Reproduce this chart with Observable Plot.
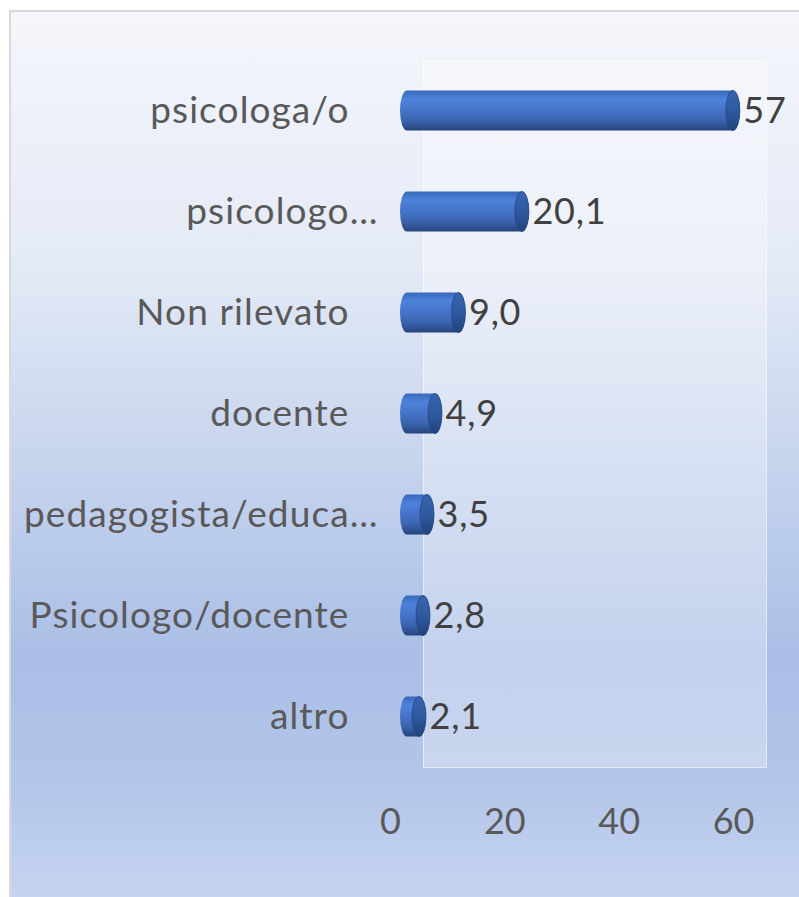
<!DOCTYPE html>
<html><head><meta charset="utf-8">
<script src="https://cdn.jsdelivr.net/npm/d3@7"></script>
<script src="https://cdn.jsdelivr.net/npm/@observablehq/plot@0.6"></script>
<style>
body{margin:0;background:#fff;}
#wrap{position:relative;width:799px;height:897px;overflow:hidden;}
#bg{position:absolute;left:9px;top:10px;width:800px;height:900px;border:2px solid #d9d9d9;box-sizing:border-box;
background:linear-gradient(to bottom,#f4f6fb 0%,#e4eaf6 28%,#c4d2ed 52%,#aabee6 72%,#b3c5e9 86%,#c6d5f0 100%);}
#chart{position:absolute;left:0;top:0;}
#chart [aria-label="y-axis tick label"] text{letter-spacing:1.1px;}
#chart [aria-label="text"] text{letter-spacing:0.8px;}
</style></head>
<body>
<div id="wrap"><div id="bg"></div><div id="chart"></div></div>
<script>
const categories = ["psicologa/o","psicologo…","Non rilevato","docente","pedagogista/educa…","Psicologo/docente","altro"];
const values = [57, 20.1, 9.0, 4.9, 3.5, 2.8, 2.1];
const valueLabels = ["57","20,1","9,0","4,9","3,5","2,8","2,1"];
const xTicks = [0, 20, 40, 60];

const data = categories.map((c, i) => ({category: c, value: values[i], label: valueLabels[i]}));
const truncated = categories.filter(c => c.endsWith("…"));
const full = categories.filter(c => !c.endsWith("…"));

const plot = Plot.plot({
  width: 799, height: 897,
  marginLeft: 390, marginRight: 66, marginTop: 60, marginBottom: 130,
  style: {background: "transparent", fontFamily: "Lato, 'Open Sans', sans-serif", fontSize: "36px", color: "#595959", overflow: "visible"},
  x: {domain: [0, 60], ticks: xTicks, label: null},
  y: {domain: categories, padding: 0, label: null},
  marks: [
    Plot.frame({dx: 33, fill: "white", fillOpacity: 0.3, stroke: "#ffffff", strokeOpacity: 0.6}),
    Plot.axisY({ticks: full, tickSize: 0, tickPadding: 41, fontSize: 37, label: null}),
    Plot.axisY({ticks: truncated, tickSize: 0, tickPadding: 12, fontSize: 37, label: null}),
    Plot.axisX({ticks: xTicks, tickSize: 0, tickPadding: 41, label: null}),
    Plot.barX(data, {y: "category", x1: 0, x2: "value", dx: 17, insetTop: 30.5, insetBottom: 30.5, insetLeft: -7, insetRight: -7, rx: 7, ry: 20, fill: "url(#cylBody)"}),
    Plot.barX(data, {y: "category", x1: "value", x2: "value", dx: 17, insetTop: 30.5, insetBottom: 30.5, insetLeft: -7, insetRight: -7, rx: 7, ry: 20, fill: "url(#cylCap)", stroke: "#27467f", strokeWidth: 0.8}),
    Plot.text(data, {y: "category", x: "value", text: "label", dx: 27, textAnchor: "start", fill: "#404040"})
  ]
});

const defs = d3.select(plot).insert("defs", ":first-child");
const g1 = defs.append("linearGradient").attr("id", "cylBody").attr("x1", 0).attr("y1", 0).attr("x2", 0).attr("y2", 1);
[[0, "#3868bb"], [0.22, "#4d82db"], [0.45, "#4676cc"], [0.75, "#3b64ae"], [1, "#26447b"]].forEach(([o, c]) => g1.append("stop").attr("offset", o).attr("stop-color", c));
const g2 = defs.append("linearGradient").attr("id", "cylCap").attr("x1", 0).attr("y1", 0).attr("x2", 0).attr("y2", 1);
[[0, "#3765b0"], [0.5, "#2f5a9f"], [1, "#22427c"]].forEach(([o, c]) => g2.append("stop").attr("offset", o).attr("stop-color", c));

document.getElementById("chart").appendChild(plot);
</script>
</body></html>
